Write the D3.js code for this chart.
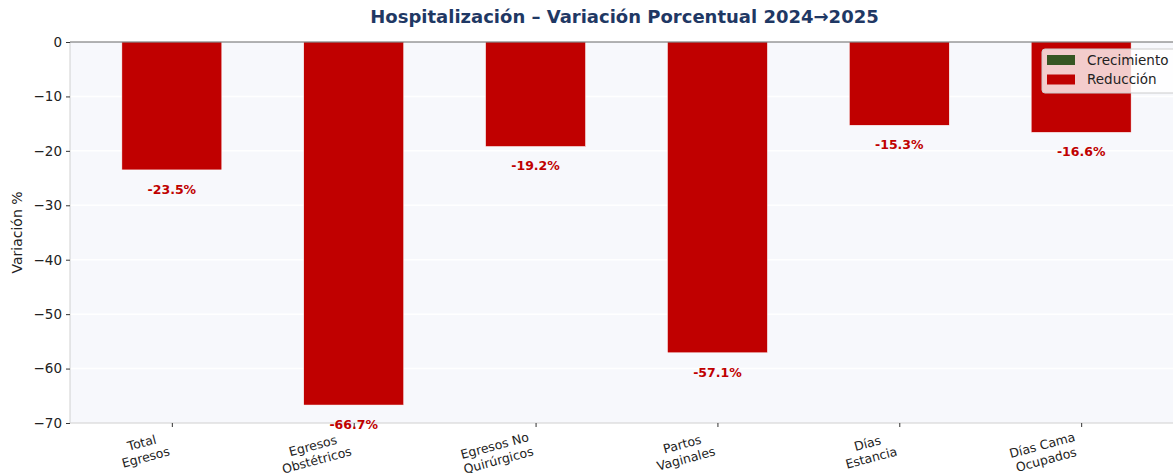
<!DOCTYPE html>
<html>
<head>
<meta charset="utf-8">
<script src="https://cdn.jsdelivr.net/npm/d3@7"></script>
<style>
  html, body { margin: 0; padding: 0; background: #ffffff; }
  svg { display: block; font-family: "DejaVu Sans", sans-serif; }
</style>
</head>
<body>
<svg id="chart" width="1173" height="473"></svg>
<script>
const categories = [
  ["Total", "Egresos"],
  ["Egresos", "Obstétricos"],
  ["Egresos No", "Quirúrgicos"],
  ["Partos", "Vaginales"],
  ["Días", "Estancia"],
  ["Días Cama", "Ocupados"]
];
const values = [-23.5, -66.7, -19.2, -57.1, -15.3, -16.6];
const yTicks = [0, -10, -20, -30, -40, -50, -60, -70];
const legendLabels = ["Crecimiento", "Reducción"];
const colorUp = "#375623";
const colorDown = "#c00000";

(function () {
const svg = d3.select("#chart");
const pLeft = 70, pRight = 1183, pTop = 42, pBottom = 423;

const x = d3.scaleLinear().domain([-0.56, categories.length - 1 + 0.56]).range([pLeft, pRight]);
const y = d3.scaleLinear().domain([0, -70]).range([pTop, pBottom]);
const barW = 100 / 182; // in index units

// Plot background
svg.append("rect").attr("x", pLeft).attr("y", pTop).attr("width", pRight - pLeft).attr("height", pBottom - pTop)
  .attr("fill", "#f7f8fc");

// Grid lines
svg.append("g").selectAll("line").data(yTicks.filter(d => d !== 0 && d !== -70)).join("line")
  .attr("x1", pLeft).attr("x2", pRight)
  .attr("y1", d => y(d)).attr("y2", d => y(d))
  .attr("stroke", "#ffffff").attr("stroke-width", 1.5);

// Bars
svg.append("g").selectAll("rect").data(values).join("rect")
  .attr("x", (d, i) => x(i - barW / 2))
  .attr("width", (d, i) => x(i + barW / 2) - x(i - barW / 2))
  .attr("y", d => y(Math.max(0, d)))
  .attr("height", d => Math.abs(y(d) - y(0)))
  .attr("fill", d => d >= 0 ? colorUp : colorDown)
  .attr("stroke", "#ffffff").attr("stroke-width", 0.5);

// Spines
svg.append("line").attr("x1", pLeft).attr("x2", pLeft).attr("y1", pTop).attr("y2", pBottom)
  .attr("stroke", "#d0d0d0").attr("stroke-width", 1);
svg.append("line").attr("x1", pLeft).attr("x2", pRight).attr("y1", pBottom).attr("y2", pBottom)
  .attr("stroke", "#d0d0d0").attr("stroke-width", 1);
// zero line
svg.append("line").attr("x1", pLeft).attr("x2", pRight).attr("y1", y(0)).attr("y2", y(0))
  .attr("stroke", "#666666").attr("stroke-width", 1);

// Y axis
const yAxis = d3.axisLeft(y).tickValues(yTicks).tickSize(4).tickPadding(4)
  .tickFormat(d => d3.format("d")(d).replace("-", "\u2212"));
const gy = svg.append("g").attr("transform", `translate(${pLeft},0)`).call(yAxis);
gy.select(".domain").remove();
gy.selectAll(".tick line").attr("stroke", "#333");
gy.selectAll(".tick text").attr("font-size", 13.5).attr("fill", "#222").attr("font-family", "DejaVu Sans");

// X axis ticks
const xAxis = d3.axisBottom(x).tickValues(d3.range(categories.length)).tickSize(4).tickFormat("");
const gx = svg.append("g").attr("transform", `translate(0,${pBottom})`).call(xAxis);
gx.select(".domain").remove();
gx.selectAll(".tick line").attr("stroke", "#333");

// X tick labels: rotated 15°, right-aligned block
const ang = 15 * Math.PI / 180;
const fs = 12.5, lh = 15;
categories.forEach((lines, i) => {
  const g = svg.append("g");
  const texts = lines.map((t, k) => g.append("text").text(t)
    .attr("font-size", fs).attr("fill", "#222").attr("text-anchor", "middle")
    .attr("y", fs * 0.8 + k * lh));
  const w = d3.max(texts, t => t.node().getComputedTextLength());
  const h = lines.length * lh;
  texts.forEach(t => t.attr("x", w / 2));
  const tx = x(i) - (w * Math.cos(ang) + h * Math.sin(ang));
  const ty = 431 + w * Math.sin(ang);
  g.attr("transform", `translate(${tx},${ty}) rotate(-15)`);
});

// Value labels
svg.append("g").selectAll("text").data(values).join("text")
  .attr("x", (d, i) => x(i))
  .attr("y", d => y(d - 3.6))
  .attr("dy", "0.35em")
  .attr("text-anchor", "middle")
  .attr("font-size", 12.5).attr("font-weight", "bold")
  .attr("fill", colorDown)
  .text(d => (d > 0 ? "+" : "") + d.toFixed(1) + "%");

// Title
svg.append("text").attr("x", (pLeft + pRight) / 2 - 2).attr("y", 23)
  .attr("text-anchor", "middle").attr("font-size", 18).attr("font-weight", "bold")
  .attr("fill", "#1f3864")
  .text("Hospitalización – Variación Porcentual 2024→2025");

// Y label
svg.append("text").attr("transform", `translate(22,${(pTop + pBottom) / 2}) rotate(-90)`)
  .attr("text-anchor", "middle").attr("font-size", 14).attr("fill", "#222")
  .text("Variación %");

// Legend
const lg = svg.append("g").attr("transform", "translate(1042,49)");
lg.append("rect").attr("x", 0).attr("y", 0).attr("width", 150).attr("height", 44)
  .attr("rx", 3).attr("fill", "#ffffff").attr("fill-opacity", 0.8)
  .attr("stroke", "#cccccc").attr("stroke-width", 1);
legendLabels.forEach((lab, k) => {
  lg.append("rect").attr("x", 5).attr("y", 6 + k * 19.5).attr("width", 28).attr("height", 10)
    .attr("fill", k === 0 ? colorUp : colorDown);
  lg.append("text").attr("x", 45).attr("y", 11 + k * 19.5).attr("dy", "0.35em")
    .attr("font-size", 13.5).attr("fill", "#222").text(lab);
});
})();
</script>
</body>
</html>
